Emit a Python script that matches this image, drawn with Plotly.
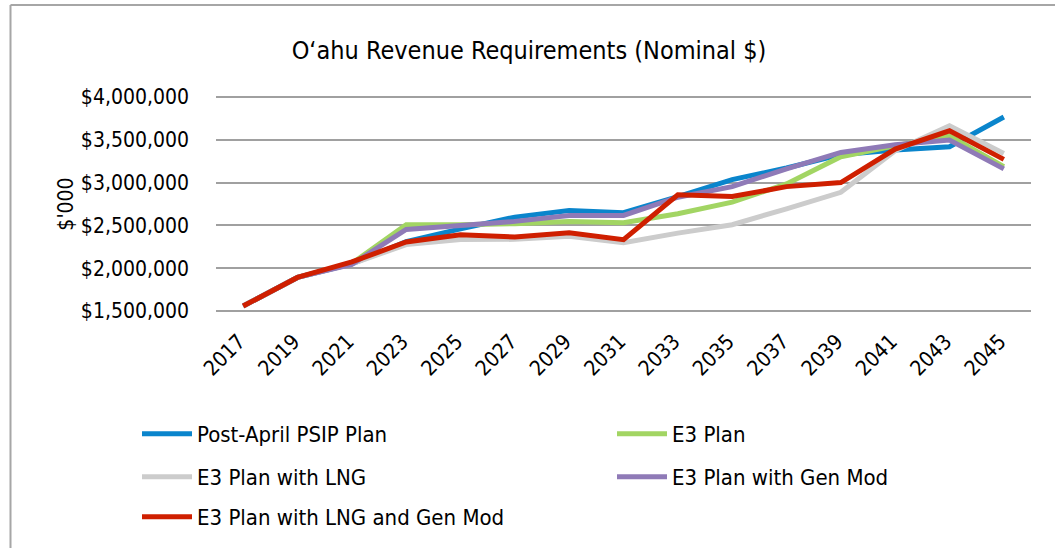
import plotly.graph_objects as go

years = ["2017", "2019", "2021", "2023", "2025", "2027", "2029", "2031",
         "2033", "2035", "2037", "2039", "2041", "2043", "2045"]

post_april_psip = [1558000, 1892000, 2050000, 2310000, 2460000, 2597000, 2674000, 2648000,
                   2835000, 3035000, 3171000, 3326000, 3380000, 3419000, 3767000]
e3_plan = [1558000, 1892000, 2055000, 2508000, 2508000, 2520000, 2547000, 2531000,
           2636000, 2771000, 2985000, 3302000, 3430000, 3547000, 3186000]
e3_lng = [1558000, 1892000, 2050000, 2276000, 2334000, 2337000, 2372000, 2299000,
          2410000, 2508000, 2694000, 2887000, 3372000, 3663000, 3341000]
e3_genmod = [1558000, 1892000, 2045000, 2453000, 2500000, 2547000, 2616000, 2616000,
             2829000, 2953000, 3160000, 3352000, 3442000, 3497000, 3160000]
e3_lng_genmod = [1558000, 1892000, 2073000, 2306000, 2390000, 2364000, 2415000, 2334000,
                 2857000, 2837000, 2953000, 3000000, 3392000, 3605000, 3271000]

FONT = "DejaVu Sans Condensed, DejaVu Sans, sans-serif"

series = [
    ("Post-April PSIP Plan", post_april_psip, "#0a85cc", "legend"),
    ("E3 Plan", e3_plan, "#a2d563", "legend"),
    ("E3 Plan with LNG", e3_lng, "#cccccc", "legend2"),
    ("E3 Plan with Gen Mod", e3_genmod, "#8f7ab7", "legend2"),
    ("E3 Plan with LNG and Gen Mod", e3_lng_genmod, "#cf1f00", "legend3"),
]

fig = go.Figure()
for name, vals, color, leg in series:
    fig.add_trace(go.Scatter(
        x=years, y=vals, name=name, mode="lines",
        line=dict(color=color, width=5),
        legend=leg,
    ))

# plot area in pixels (slightly padded so end gridlines are drawn)
W, H = 1055, 548
PL, PR = 216, 1031
PT, PB = 95, 313
Y0, Y1 = 1500000, 4000000
per_px = (Y1 - Y0) / 214.0
YMIN, YMAX = Y0 - 2 * per_px, Y1 + 2 * per_px


def px_x(p):
    return (p - PL) / (PR - PL)


def px_y(p):
    return (PB - p) / (PB - PT)


leg_common = dict(orientation="h", entrywidth=410, entrywidthmode="pixels",
                  itemwidth=50, xanchor="left", yanchor="middle",
                  font=dict(family=FONT, size=22, color="#000000"),
                  bgcolor="rgba(0,0,0,0)", traceorder="normal")

fig.update_layout(
    width=W, height=H,
    margin=dict(l=PL, r=W - PR, t=PT, b=H - PB, autoexpand=False),
    paper_bgcolor="white", plot_bgcolor="white",
    font=dict(family=FONT, size=21, color="#000000"),
    title=dict(text="O‘ahu Revenue Requirements (Nominal $)",
               font=dict(family=FONT, size=25, color="#000000"),
               x=529 / W, xanchor="center", xref="container",
               y=1 - 50 / H, yanchor="middle", yref="container"),
    xaxis=dict(type="category", range=[-0.5, 14.5], showgrid=False,
               showline=False, ticks="", tickangle=-45,
               tickfont=dict(family=FONT, size=21), ticklabelstandoff=11,
               ticklabelshift=-4, automargin=False),
    yaxis=dict(range=[YMIN, YMAX], dtick=500000, tick0=1500000,
               tickprefix="$", separatethousands=True, tickformat=",d",
               showgrid=True, gridcolor="#a0a0a0", gridwidth=2,
               zeroline=False, showline=False, ticks="",
               tickfont=dict(family=FONT, size=21), ticklabelstandoff=26,
               title=dict(text="$'000", font=dict(family=FONT, size=21), standoff=1),
               automargin=False),
    legend=dict(x=px_x(137), y=px_y(434), **leg_common),
    legend2=dict(x=px_x(137), y=px_y(477), **leg_common),
    legend3=dict(x=px_x(137), y=px_y(517), **leg_common),
    shapes=[
        dict(type="line", xref="paper", yref="paper",
             x0=px_x(10.5), x1=px_x(1070), y0=px_y(5), y1=px_y(5),
             line=dict(color="#a6a6a6", width=2)),
        dict(type="line", xref="paper", yref="paper",
             x0=px_x(10.5), x1=px_x(10.5), y0=px_y(5), y1=px_y(560),
             line=dict(color="#a6a6a6", width=2)),
    ],
)

fig.write_html("out.html", config={"displayModeBar": False},
               post_script="document.body.style.margin='0';document.body.style.overflow='hidden';")
